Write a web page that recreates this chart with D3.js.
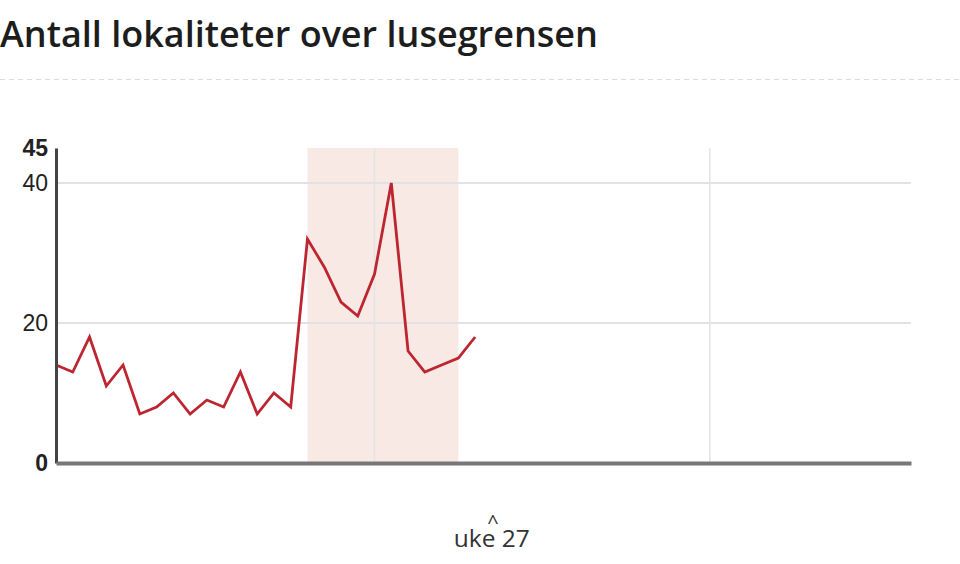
<!DOCTYPE html>
<html>
<head>
<meta charset="utf-8">
<script src="https://cdn.jsdelivr.net/npm/d3@7"></script>
<style>
  body { margin: 0; background: #fff; }
  svg { display: block; }
</style>
</head>
<body>
<div id="chart"></div>
<script>
// uke 1..26
var weeks = d3.range(1, 27);
var counts = [14, 13, 18, 11, 14, 7, 8, 10, 7, 9, 8, 13, 7, 10, 8, 32, 28, 23, 21, 27, 40, 16, 13, 14, 15, 18];
var yTicks = [0, 20, 40, 45];
var boldTicks = [0, 45];
var gridWeeks = [20, 40];
var bandWeeks = [16, 25];
var currentWeek = 27;

var svgWidth = 960;
var svgHeight = 564;

var margin = { top: 148, right: 49, bottom: 101, left: 56 };
var width = svgWidth - margin.left - margin.right;
var height = svgHeight - margin.top - margin.bottom;

var svg = d3.select("#chart")
  .append("svg")
  .attr("width", svgWidth)
  .attr("height", svgHeight);

// title + dashed rule
svg.append("text")
  .attr("x", 0)
  .attr("y", 47)
  .attr("font-family", "Open Sans")
  .attr("font-weight", 600)
  .attr("font-size", 36)
  .attr("fill", "#1d1d1d")
  .text("Antall lokaliteter over lusegrensen");

svg.append("line")
  .attr("x1", 0).attr("x2", svgWidth)
  .attr("y1", 79.5).attr("y2", 79.5)
  .attr("stroke", "#dcdcdc")
  .attr("stroke-dasharray", "5,4");

var chartGroup = svg.append("g")
  .attr("transform", `translate(${margin.left}, ${margin.top})`);

var xScale = d3.scaleLinear()
  .domain([1, 52])
  .range([0, width]);

var yScale = d3.scaleLinear()
  .domain([0, 45])
  .range([height, 0]);

// shaded period
chartGroup.append("rect")
  .attr("x", xScale(bandWeeks[0]))
  .attr("y", yScale(45))
  .attr("width", xScale(bandWeeks[1]) - xScale(bandWeeks[0]))
  .attr("height", yScale(0) - yScale(45))
  .attr("fill", "#f8e9e5");

// grid
chartGroup.selectAll("line.hgrid")
  .data([20, 40])
  .enter()
  .append("line")
  .attr("class", "hgrid")
  .attr("x1", 0)
  .attr("x2", width)
  .attr("y1", d => yScale(d))
  .attr("y2", d => yScale(d))
  .attr("stroke", "#e2e2e2")
  .attr("stroke-width", 2);

chartGroup.selectAll("line.vgrid")
  .data(gridWeeks)
  .enter()
  .append("line")
  .attr("class", "vgrid")
  .attr("x1", d => xScale(d))
  .attr("x2", d => xScale(d))
  .attr("y1", yScale(45))
  .attr("y2", yScale(0))
  .attr("stroke", "#e4e4e4")
  .attr("stroke-width", 1.5);

// line
var line = d3.line()
  .x((d, i) => xScale(weeks[i]))
  .y(d => yScale(d));

chartGroup.append("path")
  .datum(counts)
  .attr("d", line)
  .attr("fill", "none")
  .attr("stroke", "#bd2530")
  .attr("stroke-width", 2.8);

// axes
var yAxis = d3.axisLeft(yScale)
  .tickValues(yTicks)
  .tickSize(0)
  .tickPadding(8);

var yAxisG = chartGroup.append("g").call(yAxis);
yAxisG.select(".domain")
  .attr("stroke", "#444")
  .attr("stroke-width", 3);
yAxisG.selectAll("text")
  .attr("font-family", "Liberation Sans")
  .attr("font-size", 23)
  .attr("fill", "#222")
  .attr("font-weight", d => boldTicks.includes(d) ? "bold" : "normal");

var xAxis = d3.axisBottom(xScale)
  .tickValues([])
  .tickSizeOuter(0);

var xAxisG = chartGroup.append("g")
  .attr("transform", `translate(0, ${height})`)
  .call(xAxis);
xAxisG.select(".domain")
  .attr("stroke", "#777")
  .attr("stroke-width", 4);

// current week marker
chartGroup.append("text")
  .attr("x", xScale(currentWeek) + 1)
  .attr("y", height + 66)
  .attr("text-anchor", "middle")
  .attr("font-family", "Open Sans")
  .attr("font-size", 20)
  .attr("fill", "#333")
  .text("^");

chartGroup.append("text")
  .attr("x", xScale(currentWeek))
  .attr("y", height + 84)
  .attr("text-anchor", "middle")
  .attr("font-family", "Open Sans")
  .attr("font-size", 24.5)
  .attr("fill", "#333")
  .text("uke 27");
</script>
</body>
</html>
